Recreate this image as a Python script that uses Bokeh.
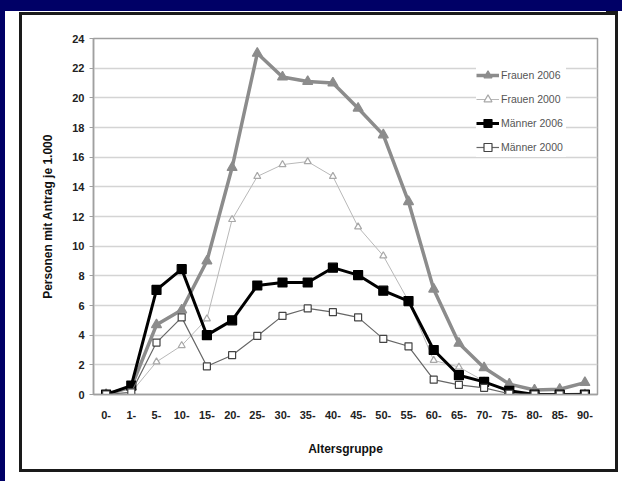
from bokeh.plotting import figure
from bokeh.models import ColumnDataSource, Range1d, FactorRange, SingleIntervalTicker
from bokeh.embed import file_html
from bokeh.resources import INLINE

categories = ["0-", "1-", "5-", "10-", "15-", "20-", "25-", "30-", "35-", "40-",
              "45-", "50-", "55-", "60-", "65-", "70-", "75-", "80-", "85-", "90-"]
frauen_2006 = [0, 0.5, 4.7, 5.7, 9.0, 15.3, 23.0, 21.4, 21.1, 21.0,
               19.3, 17.5, 13.0, 7.1, 3.45, 1.8, 0.7, 0.3, 0.35, 0.8]
frauen_2000 = [0, 0.15, 2.2, 3.3, 5.1, 11.8, 14.7, 15.5, 15.7, 14.7,
               11.3, 9.35, 6.3, 2.3, 1.85, 0.9, 0.1, 0.05, 0.05, 0.1]
maenner_2006 = [0, 0.6, 7.05, 8.45, 4.0, 5.0, 7.35, 7.55, 7.55, 8.55,
                8.05, 7.0, 6.3, 3.0, 1.3, 0.85, 0.25, 0, 0, 0]
maenner_2000 = [0, 0.15, 3.5, 5.2, 1.9, 2.65, 3.95, 5.3, 5.8, 5.55,
                5.2, 3.75, 3.25, 1.0, 0.65, 0.45, 0.05, 0, 0, 0]
series_names = ["Frauen 2006", "Frauen 2000", "Männer 2006", "Männer 2000"]
y_title = "Personen mit Antrag je 1.000"
x_title = "Altersgruppe"

FONT = "Liberation Sans"
W, H = 606, 465
FL, FR, FT, FB = 93, 597, 38, 394  # plot frame edges (canvas px)

p = figure(width=W, height=H,
           x_range=FactorRange(factors=categories, range_padding=0),
           y_range=Range1d(0, 24),
           output_backend="svg", toolbar_location=None,
           min_border_left=FL, min_border_right=W - FR,
           min_border_top=FT, min_border_bottom=H - FB)

p.background_fill_color = "white"
p.border_fill_color = "white"
p.border_fill_alpha = 0.0
p.outline_line_color = "#a0a0a0"
p.outline_line_width = 1.5

# page panel: navy edges and black frame, as CSS decoration of the plot element
NAVY = "#000066"
FRAME = "#1a1a1a"
layers = [
    f"linear-gradient({NAVY},{NAVY}) 0px 0px / 100% 11px no-repeat",
    f"linear-gradient({NAVY},{NAVY}) 0px 0px / 5px 100% no-repeat",
    f"linear-gradient({FRAME},{FRAME}) 19px 12px / {W - 19}px 3px no-repeat",
    f"linear-gradient({FRAME},{FRAME}) 19px 12px / 3px {H - 12}px no-repeat",
    "#ffffff",
]
shadows = [
    f"16px -454px 0 0 {NAVY}",     # navy strip continues to the right edge
    f"-601px 16px 0 0 {NAVY}",     # navy strip continues at the bottom left
    f"12px -450px 0 0 {FRAME}",    # top frame line continues
    "-587px 16px 0 0 #ffffff",     # white below, left of frame
    f"-584px 7px 0 0 {FRAME}",     # left frame line continues
    "9px 4px 0 0 #ffffff",         # white gap inside the frame
    f"12px 7px 0 0 {FRAME}",       # right and bottom frame lines
]
p.styles = {"background": ", ".join(layers), "box-shadow": ", ".join(shadows)}

# axes
p.yaxis.ticker = SingleIntervalTicker(interval=2, num_minor_ticks=0)
p.yaxis.axis_label = y_title
p.xaxis.axis_label = x_title
for ax in (p.xaxis, p.yaxis):
    ax.axis_line_color = "#a0a0a0"
    ax.axis_line_width = 1.5
    ax.major_label_text_font = FONT
    ax.major_label_text_font_style = "bold"
    ax.major_label_text_font_size = "11px"
    ax.major_label_text_color = "#222222"
    ax.axis_label_text_font = FONT
    ax.axis_label_text_font_style = "bold"
    ax.axis_label_text_font_size = "12px"
    ax.axis_label_text_color = "#111111"
    ax.minor_tick_line_color = None
p.yaxis.major_tick_out = 4
p.yaxis.major_tick_in = 0
p.yaxis.major_tick_line_color = "#a0a0a0"
p.yaxis.major_label_standoff = 5
p.yaxis.axis_label_standoff = 14
p.xaxis.major_tick_out = 0
p.xaxis.major_tick_in = 0
p.xaxis.major_tick_line_color = None
p.xaxis.major_label_standoff = 16
p.xaxis.axis_label_standoff = 20

p.xgrid.visible = False
p.ygrid.grid_line_color = "#d4d4d4"
p.ygrid.grid_line_width = 1.6

styles = [
    dict(lc="#8c8c8c", lw=3.5, marker="triangle", size=10, fill="#8c8c8c", mlc="#8c8c8c"),
    dict(lc="#b8b8b8", lw=1.0, marker="triangle", size=7, fill="white", mlc="#a8a8a8"),
    dict(lc="#000000", lw=3.0, marker="square", size=9, fill="#000000", mlc="#000000"),
    dict(lc="#666666", lw=1.2, marker="square", size=7, fill="white", mlc="#444444"),
]
data = [frauen_2006, frauen_2000, maenner_2006, maenner_2000]

for name, vals, st in zip(series_names, data, styles):
    src = ColumnDataSource(dict(x=categories, y=vals))
    p.line("x", "y", source=src, line_color=st["lc"], line_width=st["lw"], legend_label=name)
    p.scatter("x", "y", source=src, marker=st["marker"], size=st["size"],
              fill_color=st["fill"], line_color=st["mlc"], line_width=1.2, legend_label=name)

lg = p.legend[0]
lg.location = (476 - FL, FB - 157)
lg.label_text_font = FONT
lg.label_text_font_size = "10.5px"
lg.label_text_color = "#555555"
lg.glyph_width = 23
lg.glyph_height = 20
lg.label_height = 20
lg.label_width = 65
lg.label_standoff = 2
lg.spacing = 4
lg.padding = 11
lg.margin = 0
lg.border_line_color = None
lg.background_fill_color = "white"
lg.background_fill_alpha = 1.0

open("out.html", "w").write(file_html(p, INLINE))
